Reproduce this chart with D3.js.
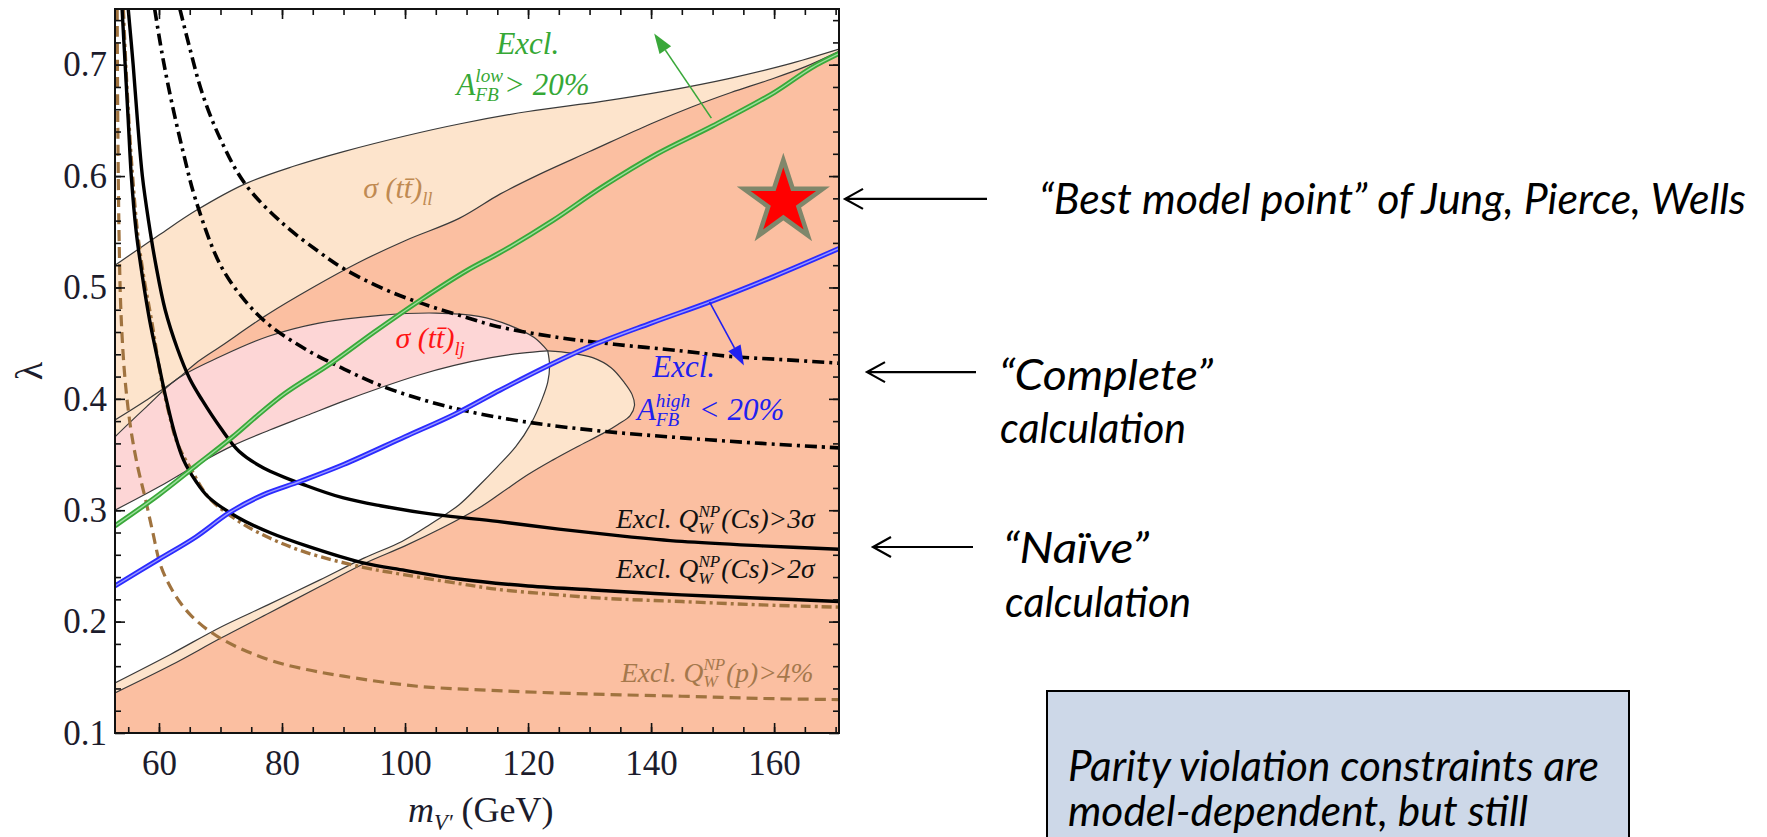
<!DOCTYPE html>
<html lang="en">
<head>
<meta charset="UTF-8">
<title>Parity violation constraints on V' models</title>
<script src="https://d3js.org/d3.v7.min.js"></script>
<style>
  body { margin: 0; background: #fff; }
  svg { display: block; }
  text { white-space: pre; }
</style>
</head>
<body>
<svg width="1767" height="837"></svg>
<script>
// ---- values: [m_V' (GeV), lambda] ----
var xTicks = [60, 80, 100, 120, 140, 160];
var yTicks = [0.1, 0.2, 0.3, 0.4, 0.5, 0.6, 0.7];

// sigma(tt)_ll contours
var llUpper = [[52.85,0.52],[60,0.547],[66,0.569],[74,0.593],[82,0.609],[90,0.622],[100,0.636],[109,0.647],[120,0.658],[132,0.667],[142,0.676],[153,0.688],[162,0.700],[170.55,0.714]];
var llLower = [[52.85,0.381],[58,0.399],[63,0.418],[66,0.432],[70,0.447],[77.7,0.476],[85,0.50],[92.3,0.522],[100,0.542],[108.8,0.562],[115.5,0.584],[122,0.602],[130,0.622],[140,0.647],[146.6,0.662],[153,0.675],[159,0.686],[165,0.698],[170.55,0.712]];
// sigma(tt)_lj contours
var ljOuterTop = [[52.85,0.366],[58,0.393],[63,0.418],[70,0.438],[77.7,0.456],[86,0.468],[96,0.475],[105,0.477],[112,0.474],[117,0.466],[121,0.455],[123.2,0.443]];
var ljOuterBottom = [[123.2,0.443],[123.5,0.43],[123.2,0.415],[122.3,0.40],[120.5,0.378],[118,0.357],[115,0.339],[112,0.322],[108.8,0.305],[104,0.287],[99.5,0.272],[93.3,0.257],[86,0.237],[77.7,0.215],[70,0.195],[62,0.171],[52.85,0.145]];
var ljInner = [[52.85,0.300],[60,0.321],[66.5,0.342],[72,0.358],[78,0.372],[84,0.385],[90,0.398],[96,0.41],[102,0.421],[108,0.43],[114,0.437],[119,0.441],[123.2,0.443]];
var overlapEdge = [[123.2,0.443],[127,0.441],[130.5,0.437],[133.5,0.428],[135.6,0.415],[136.9,0.404],[137.3,0.394],[136.6,0.385],[134.6,0.377],[132.2,0.369],[128,0.357],[124,0.345],[120,0.332],[115.5,0.315],[112,0.302],[106,0.284],[100,0.268],[93.3,0.252],[86,0.231],[78,0.208],[70,0.185],[62,0.161],[52.85,0.136]];

// A_FB curves
var afbLow = [[52.85,0.286],[60,0.314],[66,0.34],[72,0.366],[76,0.385],[80.5,0.405],[88,0.432],[95,0.46],[102.6,0.489],[110,0.515],[116,0.533],[124,0.56],[132,0.59],[141,0.62],[150,0.645],[160,0.675],[166,0.697],[170.55,0.71]];
var afbHigh = [[52.85,0.232],[60,0.256],[66,0.276],[71.5,0.298],[77,0.314],[83,0.326],[90,0.341],[100,0.366],[108,0.386],[115.5,0.408],[123,0.429],[130,0.447],[140,0.468],[150,0.488],[160,0.51],[170.55,0.535]];

// Q_W exclusion curves
var cs3Naive = [[55,0.75],[55.8,0.70],[56.5,0.65],[57.3,0.60],[58.3,0.56],[59.5,0.52],[61,0.48],[63,0.445],[65,0.418],[67,0.399],[70,0.374],[73,0.353],[77,0.338],[84,0.322],[90,0.311],[96,0.304],[105,0.296],[115,0.29],[125,0.283],[135,0.277],[145,0.272],[158,0.268],[170.55,0.265]];
var cs2Naive = [[54,0.75],[54.5,0.70],[55,0.65],[55.5,0.60],[56.3,0.55],[57.3,0.51],[58.5,0.47],[60,0.43],[61.2,0.399],[62.5,0.37],[64,0.345],[66,0.326],[68,0.312],[72.7,0.294],[78,0.28],[84,0.268],[93,0.253],[100,0.246],[109,0.238],[120,0.232],[132,0.228],[145,0.224],[158,0.221],[170.55,0.218]];
var cs2Brown = [[54.2,0.75],[54.6,0.70],[55.1,0.65],[55.7,0.60],[56.5,0.55],[57.5,0.51],[58.8,0.47],[60.3,0.42],[61.5,0.39],[63,0.36],[65.3,0.336],[68,0.312],[72.7,0.291],[78,0.275],[84,0.262],[93,0.249],[100,0.242],[109,0.234],[115,0.229],[125,0.224],[132,0.221],[145,0.218],[158,0.215],[170.55,0.213]];
var protonP4 = [[53.2,0.75],[53.3,0.65],[53.5,0.55],[53.8,0.48],[54.3,0.43],[54.8,0.40],[55.5,0.37],[56.5,0.34],[57.8,0.31],[59,0.28],[60.3,0.25],[62.5,0.225],[65.3,0.205],[70,0.185],[77.7,0.166],[84,0.157],[90,0.151],[102,0.142],[115,0.138],[130,0.135],[145,0.133],[158,0.131],[170.55,0.13]];
var cs3Complete = [[63.4,0.75],[65,0.715],[67,0.675],[70,0.633],[74,0.593],[80,0.558],[86,0.532],[90,0.517],[96,0.500],[102,0.487],[110,0.473],[115,0.465],[125,0.455],[134,0.449],[145,0.443],[153,0.438],[162,0.435],[170.55,0.432]];
var cs2Complete = [[59.3,0.75],[60.5,0.71],[62,0.668],[64,0.62],[66,0.578],[70,0.52],[74,0.488],[78,0.466],[84,0.444],[90,0.427],[96,0.412],[103,0.399],[110,0.389],[120,0.379],[132,0.371],[145,0.365],[158,0.36],[170.55,0.356]];

var bestPoint = [161.5, 0.577];
var arrowLevels = [0.5795, 0.424, 0.267];

var W = 1767, H = 837;
var plot = {left: 115, right: 839, top: 9, bottom: 733};
var x = d3.scaleLinear().domain([52.85, 170.55]).range([plot.left, plot.right]);
var y = d3.scaleLinear().domain([0.1, 0.75]).range([plot.bottom, plot.top]);
var line = d3.line().x(function (d) { return x(d[0]); }).y(function (d) { return y(d[1]); })
    .curve(d3.curveCatmullRom.alpha(0.5));

var serif = "'Liberation Serif', 'Times New Roman', serif";
var svg = d3.select("svg");

svg.append("defs").append("clipPath").attr("id", "clip")
    .append("rect").attr("x", plot.left).attr("y", plot.top)
    .attr("width", plot.right - plot.left).attr("height", plot.bottom - plot.top);

// join curve segments (and corner points) into one closed outline
function outline(parts) {
    var d = "";
    parts.forEach(function (p, i) {
        var s = p.length > 1 ? line(p) : "M" + x(p[0][0]) + "," + y(p[0][1]);
        d += i ? s.replace(/^M/, "L") : s;
    });
    return d + "Z";
}
function rev(a) { return a.slice().reverse(); }
var x0 = x.domain()[0], x1 = x.domain()[1], yb = y.domain()[0];

var g = svg.append("g").attr("clip-path", "url(#clip)");

// filled regions
g.append("path").attr("fill", "#fde4cc")
    .attr("d", outline([llUpper, [[x1, yb]], [[x0, yb]]]));
g.append("path").attr("fill", "#fbbfa1")
    .attr("d", outline([rev(llLower.filter(function (d) { return d[0] >= 63; })),
        ljOuterTop.filter(function (d) { return d[0] >= 63; }),
        overlapEdge, [[x0, yb]], [[x1, yb]]]));
g.append("path").attr("fill", "#fdd6d6")
    .attr("d", outline([ljOuterTop, rev(ljInner)]));
g.append("path").attr("fill", "#ffffff")
    .attr("d", outline([ljInner, ljOuterBottom]));

// thin contour lines
[llUpper, llLower, ljOuterTop, ljOuterBottom, ljInner, overlapEdge].forEach(function (c) {
    g.append("path").attr("d", line(c)).attr("fill", "none")
        .attr("stroke", "#3a3a3a").attr("stroke-width", 1.2);
});

// exclusion curves
var brown = "#a0733f";
g.append("path").attr("d", line(protonP4)).attr("fill", "none")
    .attr("stroke", brown).attr("stroke-width", 3.2).attr("stroke-dasharray", "11,6");
g.append("path").attr("d", line(cs2Brown)).attr("fill", "none")
    .attr("stroke", brown).attr("stroke-width", 3.4).attr("stroke-dasharray", "10,4,3,4");
[cs3Naive, cs2Naive].forEach(function (c) {
    g.append("path").attr("d", line(c)).attr("fill", "none")
        .attr("stroke", "#000").attr("stroke-width", 3.4);
});
[cs3Complete, cs2Complete].forEach(function (c) {
    g.append("path").attr("d", line(c)).attr("fill", "none")
        .attr("stroke", "#000").attr("stroke-width", 3.6).attr("stroke-dasharray", "12,5,3,5");
});

// A_FB lines, drawn as a double stroke
[[afbLow, "#3aa83a", "#9be09b"], [afbHigh, "#2b2bff", "#9a9aff"]].forEach(function (c) {
    g.append("path").attr("d", line(c[0])).attr("fill", "none")
        .attr("stroke", c[1]).attr("stroke-width", 5);
    g.append("path").attr("d", line(c[0])).attr("fill", "none")
        .attr("stroke", c[2]).attr("stroke-width", 1.4);
});

// direction arrows for the A_FB exclusions
function solidArrow(from, to, color) {
    var ax = x(from[0]), ay = y(from[1]), bx = x(to[0]), by = y(to[1]);
    var ang = Math.atan2(by - ay, bx - ax), L = 20, Wd = 7;
    var cx = bx - L * Math.cos(ang), cy = by - L * Math.sin(ang);
    g.append("line").attr("x1", ax).attr("y1", ay).attr("x2", cx).attr("y2", cy)
        .attr("stroke", color).attr("stroke-width", 1.6);
    g.append("path").attr("fill", color).attr("d",
        "M" + bx + "," + by +
        "L" + (cx + Wd * Math.sin(ang)) + "," + (cy - Wd * Math.cos(ang)) +
        "L" + (cx - Wd * Math.sin(ang)) + "," + (cy + Wd * Math.cos(ang)) + "Z");
}
solidArrow([149.8, 0.652], [140.5, 0.728], "#3aa83a");
solidArrow([149.5, 0.487], [155.1, 0.430], "#2020f0");

// best model point
svg.append("path")
    .attr("d", d3.symbol().type(d3.symbolStar).size(1950)())
    .attr("transform", "translate(" + x(bestPoint[0]) + "," + y(bestPoint[1]) + ")")
    .attr("fill", "#ff0000").attr("stroke", "#7f876b").attr("stroke-width", 4.5)
    .attr("stroke-linejoin", "miter");

// rich text helper (sub/superscripts)
function word(p, px, py, t, size, italic, fill) {
    var el = p.append("text").attr("x", px).attr("y", py).attr("font-size", size)
        .attr("font-family", serif).attr("font-style", italic ? "italic" : "normal")
        .attr("fill", fill).text(t);
    return el.node().getComputedTextLength();
}
function rich(px, py, parts, size, fill) {
    var cx = px;
    parts.forEach(function (p) {
        if (p.sup !== undefined) {
            var w1 = word(svg, cx, py - size * 0.42, p.sup, size * 0.62, true, fill);
            var w2 = word(svg, cx, py + size * 0.2, p.sub, size * 0.62, true, fill);
            cx += Math.max(w1, w2) + 1;
        } else if (p.sub !== undefined) {
            cx += word(svg, cx, py + size * 0.22, p.sub, size * 0.62, true, fill);
        } else {
            cx += word(svg, cx, py, p.t, size, p.up ? false : true, fill);
        }
    });
}

var green = "#36a836", blue = "#2020f0", red = "#ff1414", tan = "#c08a52", tan2 = "#a5784c";
rich(x(114.85), y(0.710), [{t: "Excl."}], 31, green);
rich(x(108.35), y(0.673), [{t: "A"}, {sup: "low", sub: "FB"}, {t: "> 20%"}], 31, green);
rich(x(93.2), y(0.580), [{t: "\u03c3 (t"}, {t: "t\u0304"}, {t: ")"}, {sub: "ll"}], 30, tan);
rich(x(98.45), y(0.4456), [{t: "\u03c3 (t"}, {t: "t\u0304"}, {t: ")"}, {sub: "lj"}], 30, red);
rich(x(140.2), y(0.4196), [{t: "Excl."}], 31, blue);
rich(x(137.7), y(0.381), [{t: "A"}, {sup: "high", sub: "FB"}, {t: " < 20%"}], 31, blue);
rich(x(134.3), y(0.284), [{t: "Excl. Q"}, {sup: "NP", sub: "W"}, {t: "(Cs)>3\u03c3"}], 27.5, "#111");
rich(x(134.3), y(0.239), [{t: "Excl. Q"}, {sup: "NP", sub: "W"}, {t: "(Cs)>2\u03c3"}], 27.5, "#111");
rich(x(135.1), y(0.146), [{t: "Excl. Q"}, {sup: "NP", sub: "W"}, {t: "(p)>4%"}], 27.5, tan2);

// frame and ticks (all pointing inwards)
var minorX = d3.range(55, 171, 5), minorY = d3.range(0.12, 0.75, 0.02);
function frameAxis(axis, tx, ty, values, size, labels) {
    var a = svg.append("g").attr("transform", "translate(" + tx + "," + ty + ")")
        .call(axis.tickValues(values).tickSize(-size).tickPadding(labels ? labels : 0)
            .tickFormat(labels ? null : ""));
    a.select(".domain").remove();
    a.selectAll("line").attr("stroke", "#111").attr("stroke-width", 1.6);
    return a;
}
var bx = frameAxis(d3.axisBottom(x), 0, plot.bottom, xTicks, 10, 17);
frameAxis(d3.axisBottom(x), 0, plot.bottom, minorX, 6, 0);
frameAxis(d3.axisTop(x), 0, plot.top, xTicks, 10, 0);
frameAxis(d3.axisTop(x), 0, plot.top, minorX, 6, 0);
var ly = svg.append("g").attr("transform", "translate(" + plot.left + ",0)")
    .call(d3.axisLeft(y).tickValues(yTicks).tickSize(-10).tickPadding(8).tickFormat(d3.format(".1f")));
ly.select(".domain").remove();
ly.selectAll("line").attr("stroke", "#111").attr("stroke-width", 1.6);
frameAxis(d3.axisLeft(y), plot.left, 0, minorY, 6, 0);
frameAxis(d3.axisRight(y), plot.right, 0, yTicks, 10, 0);
frameAxis(d3.axisRight(y), plot.right, 0, minorY, 6, 0);
[bx, ly].forEach(function (a) {
    a.selectAll("text").attr("font-family", serif).attr("font-size", 35).attr("fill", "#1c1c2c");
});

svg.append("rect").attr("x", plot.left).attr("y", plot.top)
    .attr("width", plot.right - plot.left).attr("height", plot.bottom - plot.top)
    .attr("fill", "none").attr("stroke", "#111").attr("stroke-width", 2);

// axis titles
svg.append("text").attr("transform", "translate(42,371) rotate(-90)")
    .attr("text-anchor", "middle").attr("font-family", serif).attr("font-size", 38)
    .attr("fill", "#1c1c2c").text("\u03bb");
rich(408, 822, [{t: "m"}, {sub: "V\u2032"}, {t: " (GeV)", up: true}], 36, "#1c1c2c");

// annotations to the right of the plot
var sans = "Lato, 'Open Sans', sans-serif";
var notes = [
    {t: "\u201cBest model point\u201d of Jung, Pierce, Wells", x: 1039, y: 214, len: 707},
    {t: "\u201cComplete\u201d", x: 999, y: 390, len: 214},
    {t: "calculation", x: 1000, y: 443, len: 186},
    {t: "\u201cNa\u00efve\u201d", x: 1003, y: 563, len: 146},
    {t: "calculation", x: 1005, y: 617, len: 186}
];
notes.forEach(function (n) {
    svg.append("text").attr("x", n.x).attr("y", n.y).attr("font-family", sans)
        .attr("font-style", "italic").attr("font-size", 42).attr("fill", "#000")
        .attr("textLength", n.len).attr("lengthAdjust", "spacingAndGlyphs").text(n.t);
});
var arrowSpans = [[845, 987], [867, 976], [873, 973]];
arrowLevels.forEach(function (lv, i) {
    var yy = y(lv), a = arrowSpans[i];
    svg.append("path").attr("fill", "none").attr("stroke", "#000").attr("stroke-width", 2.2)
        .attr("d", "M" + a[1] + "," + yy + "L" + a[0] + "," + yy +
            "M" + (a[0] + 18) + "," + (yy - 10) + "L" + a[0] + "," + yy + "L" + (a[0] + 18) + "," + (yy + 10));
});

// text box at the bottom right (runs off the bottom edge, as in the original slide)
var boxLines = [["Parity violation constraints are", 531], ["model-dependent, but still", 460]];
svg.append("rect").attr("x", 1047).attr("y", 691).attr("width", 582).attr("height", 200)
    .attr("fill", "#cdd8e8").attr("stroke", "#000").attr("stroke-width", 2);
boxLines.forEach(function (b, i) {
    svg.append("text").attr("x", 1068).attr("y", 781 + i * 45).attr("font-family", sans)
        .attr("font-style", "italic").attr("font-size", 42).attr("fill", "#000")
        .attr("textLength", b[1]).attr("lengthAdjust", "spacingAndGlyphs").text(b[0]);
});
</script>
</body>
</html>
